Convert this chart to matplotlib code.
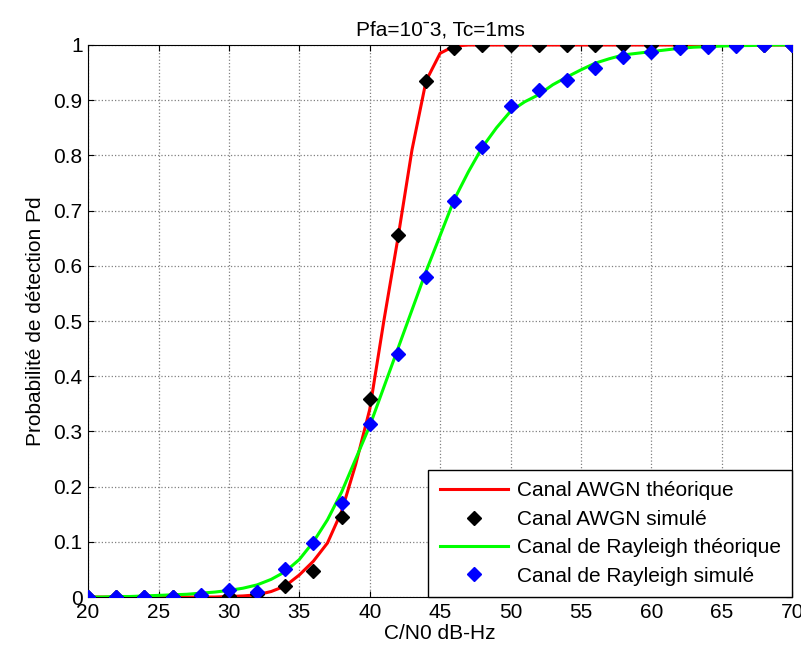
import matplotlib
matplotlib.use("Agg")
import matplotlib.pyplot as plt
import numpy as np

plt.rcParams['font.family'] = ['Liberation Sans', 'DejaVu Sans']

# Theoretical curves (1 dB steps)
snr_theory = list(range(20, 71))
awgn_theory = [0, 0, 0, 0, 0, 0, 0, 0, 0, 0,           # 20-29
               0.001, 0.002, 0.004, 0.01, 0.02, 0.04,   # 30-35
               0.065, 0.098, 0.155, 0.24, 0.34,         # 36-40
               0.5, 0.65, 0.81, 0.935, 0.985, 0.998,    # 41-46
               1, 1, 1, 1, 1, 1, 1, 1, 1, 1, 1, 1, 1, 1, 1, 1, 1, 1, 1, 1, 1, 1, 1, 1]
rayleigh_theory = [0.0, 0.0, 0.001, 0.001, 0.002, 0.003, 0.004, 0.005, 0.007, 0.009,  # 20-29
                   0.012, 0.016, 0.022, 0.032, 0.046, 0.068,                          # 30-35
                   0.1, 0.14, 0.19, 0.25, 0.31,                                        # 36-40
                   0.38, 0.45, 0.52, 0.59, 0.655, 0.72, 0.77, 0.815, 0.85, 0.88,       # 41-50
                   0.897, 0.91, 0.928, 0.942, 0.955, 0.967, 0.975, 0.982, 0.985, 0.988,  # 51-60
                   0.991, 0.994, 0.996, 0.997, 0.998, 0.999, 0.999, 1.0, 1.0, 1.0]      # 61-70

# Simulated points (2 dB steps)
snr_sim = list(range(20, 71, 2))
awgn_sim = [0, 0, 0, 0, 0, 0.002, 0.005, 0.02, 0.047, 0.145, 0.359, 0.656, 0.935,
            0.995, 1, 1, 1, 1, 1, 1, 1, 1, 1, 1, 1, 1]
rayleigh_sim = [0, 0, 0, 0, 0.003, 0.012, 0.01, 0.05, 0.098, 0.17, 0.313, 0.44, 0.58,
                0.717, 0.815, 0.89, 0.918, 0.937, 0.958, 0.978, 0.987, 0.994, 0.996,
                0.998, 1.0, 1.0]

labels = ["Canal AWGN théorique", "Canal AWGN simulé",
          "Canal de Rayleigh théorique", "Canal de Rayleigh simulé"]

FS = 15

fig = plt.figure(figsize=(8.01, 6.52), dpi=100)
ax = fig.add_axes([0.110, 0.0843, 0.879, 0.8467])

ax.plot(snr_theory, awgn_theory, color='#ff0000', lw=2.2, label=labels[0], zorder=3)
ax.plot(snr_sim, awgn_sim, linestyle='none', marker='D', markersize=7.5,
        color='black', label=labels[1], zorder=4)
ax.plot(snr_theory, rayleigh_theory, color='#00ff00', lw=2.2, label=labels[2], zorder=3)
ax.plot(snr_sim, rayleigh_sim, linestyle='none', marker='D', markersize=7.5,
        color='#0000ff', label=labels[3], zorder=5)

ax.set_xlim(20, 70)
ax.set_ylim(0, 1)
ax.set_xticks(np.arange(20, 71, 5))
ax.set_yticks(np.arange(0, 1.01, 0.1))
ax.set_yticklabels(['0', '0.1', '0.2', '0.3', '0.4', '0.5', '0.6', '0.7', '0.8', '0.9', '1'])
ax.tick_params(direction='in', labelsize=FS, length=4, top=True, right=True, pad=4)
ax.grid(True, color='#808080', linestyle=':', linewidth=0.9)
for s in ax.spines.values():
    s.set_color('black')
    s.set_linewidth(0.8)

ax.set_xlabel('C/N0 dB-Hz', fontsize=FS, labelpad=2)
ax.set_ylabel('Probabilité de détection Pd', fontsize=FS, labelpad=6)
ax.set_title('Pfa=10ˉ3, Tc=1ms', fontsize=FS, pad=7)

leg = ax.legend(loc='lower right', fontsize=FS, fancybox=False, framealpha=1,
                edgecolor='black', borderaxespad=0, handlelength=3.3,
                handletextpad=0.4, borderpad=0.55, labelspacing=0.45)
leg.get_frame().set_linewidth(1.0)

fig.savefig('out.png', dpi=100)
